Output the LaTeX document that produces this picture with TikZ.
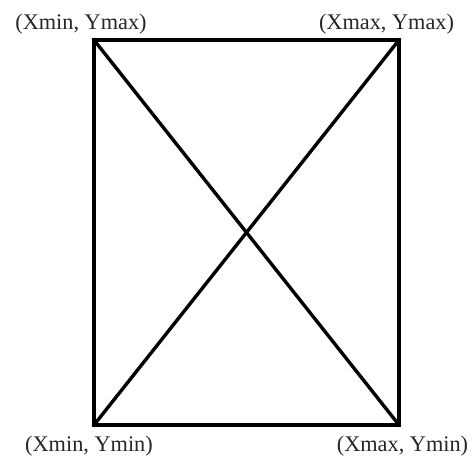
\documentclass[tikz,border=0pt]{standalone}
\usepackage{fontspec}
\setmainfont{Liberation Serif}
\begin{document}
\begin{tikzpicture}[x=1pt,y=1pt,
  edge/.style={line width=3.4pt, line cap=rect, line join=miter},
  lbl/.style={font=\fontsize{22.3}{24}\selectfont, inner sep=0pt, text=black!85}]
\useasboundingbox (0,0) rectangle (475,457);
\coordinate (bl) at (94,32);
\coordinate (br) at (399,32);
\coordinate (tr) at (399,417);
\coordinate (tl) at (94,417);
\draw[edge] (bl) -- (br) -- (tr) -- (tl) -- cycle;
\draw[edge] (tl) -- (br);
\draw[edge] (bl) -- (tr);
\node[lbl] (ltl) at (81,433) {(Xmin, Ymax)};
\node[lbl] (ltr) at (386.5,433) {(Xmax, Ymax)};
\node[lbl] (lbl1) at (89,11) {(Xmin, Ymin)};
\node[lbl] (lbr) at (402.5,11) {(Xmax, Ymin)};
\end{tikzpicture}
\end{document}
